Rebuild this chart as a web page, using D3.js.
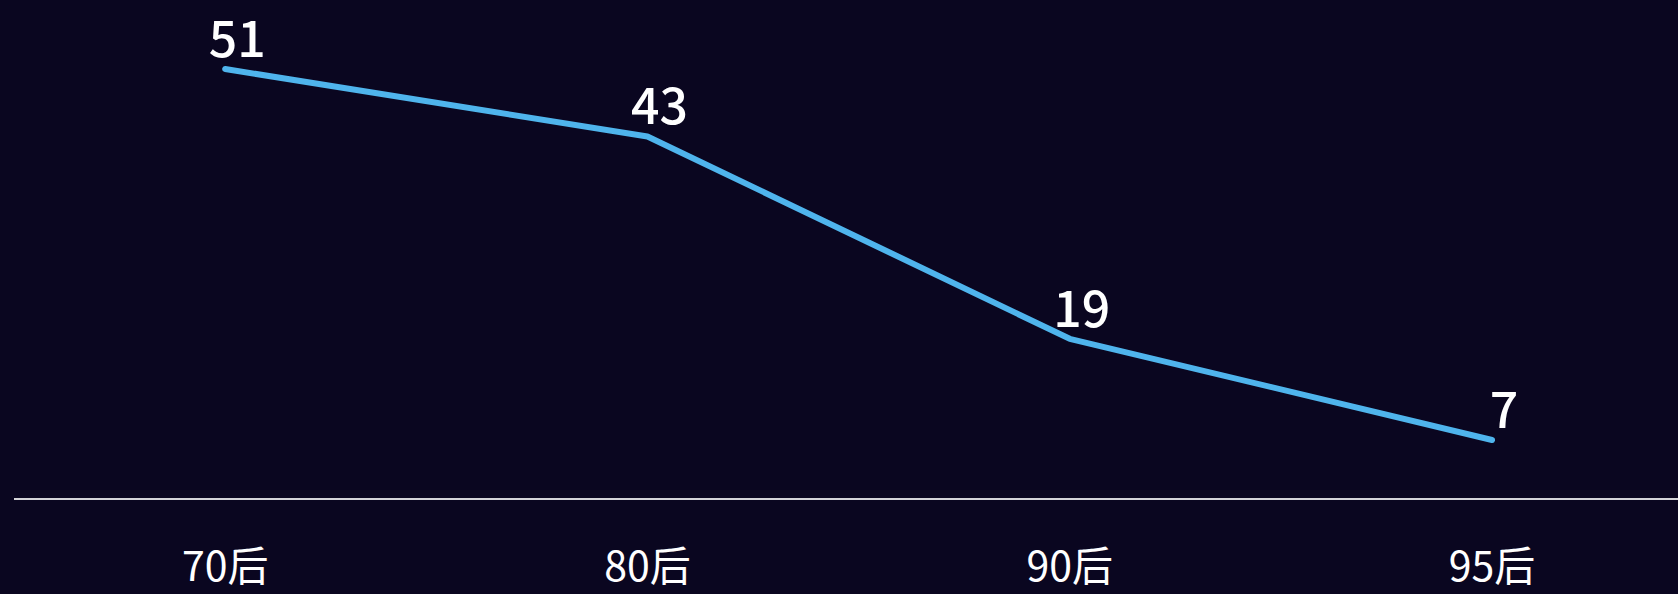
<!DOCTYPE html>
<html>
<head>
<meta charset="utf-8">
<script src="https://cdn.jsdelivr.net/npm/d3@7"></script>
<style>
  html, body { margin: 0; padding: 0; background: #0a0620; overflow: hidden; }
  text { font-family: "Noto Sans CJK SC", "Noto Sans", sans-serif; fill: #ffffff; }
</style>
</head>
<body>
<div id="chart"></div>
<script>
// data
var categories = ["70后", "80后", "90后", "95后"];
var values = [51, 43, 19, 7];

// dimensions
var width = 1678, height = 594;
var margin = {left: 14, top: 69, bottom: 95};

var svg = d3.select("#chart")
  .append("svg")
    .attr("width", width)
    .attr("height", height);

svg.append("rect")
  .attr("width", width)
  .attr("height", height)
  .attr("fill", "#0a0620");

// x scale - bands run a bit past the right edge
const x = d3.scaleBand()
  .domain(categories)
  .range([margin.left, margin.left + 4 * 422.3]);

// y scale
const y = d3.scaleLinear()
  .domain([0, d3.max(values)])
  .range([height - margin.bottom, margin.top]);

var data = categories.map((c, i) => ({cat: c, val: values[i]}));
var cx = d => x(d.cat) + x.bandwidth() / 2;

// baseline
svg.append("line")
  .attr("x1", margin.left)
  .attr("x2", width)
  .attr("y1", y(0))
  .attr("y2", y(0))
  .style("stroke", "#d4d4d8")
  .style("stroke-width", 2);

// category labels
svg.selectAll(".cat-label")
  .data(data)
  .enter().append("text")
    .attr("class", "cat-label")
    .attr("x", cx)
    .attr("y", y(0) + 82)
    .attr("text-anchor", "middle")
    .style("font-size", "41px")
    .text(d => d.cat);

// the line
var line = d3.line()
  .x(cx)
  .y(d => y(d.val));

svg.append("path")
  .datum(data)
  .attr("d", line)
  .attr("fill", "none")
  .style("stroke", "#4fb4ec")
  .style("stroke-width", 6)
  .style("stroke-linecap", "round")
  .style("stroke-linejoin", "round");

// value labels
svg.selectAll(".val-label")
  .data(data)
  .enter().append("text")
    .attr("class", "val-label")
    .attr("x", d => cx(d) + 12)
    .attr("y", d => y(d.val) - 12)
    .attr("text-anchor", "middle")
    .style("font-size", "50px")
    .style("font-weight", 500)
    .text(d => d.val);
</script>
</body>
</html>
